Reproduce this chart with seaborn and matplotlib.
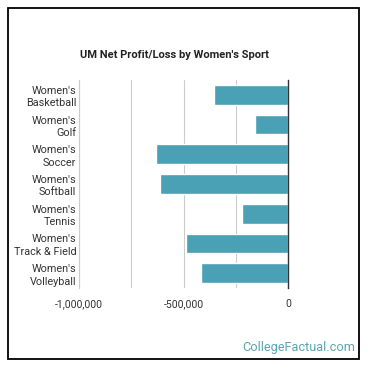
import pandas as pd
import seaborn as sns
import matplotlib.pyplot as plt
from matplotlib.patches import Rectangle

sports = ["Women's\nBasketball", "Women's\nGolf", "Women's\nSoccer", "Women's\nSoftball",
          "Women's\nTennis", "Women's\nTrack & Field", "Women's\nVolleyball"]
net = [-354000, -158000, -632000, -612000, -220000, -488000, -414000]
ticks = [-1000000, -750000, -500000, -250000, 0]
tick_labels = ["-1,000,000", "", "-500,000", "", "0"]

df = pd.DataFrame({"sport": sports, "net": net})

sns.set_style("white")
plt.rcParams['font.family'] = ['Roboto', 'DejaVu Sans']

fig = plt.figure(figsize=(3.7, 3.7), dpi=100)
ax = fig.add_axes([79/370, (370-288)/370, (288-79)/370, (288-80)/370])

sns.barplot(data=df, x="net", y="sport", orient="h", color="#4aa0b5",
            width=0.66, saturation=1, ax=ax)

ax.set_xlim(-1000000, 0)
ax.set_xticks(ticks)
ax.set_xticklabels(tick_labels)
ax.grid(axis="x", color="#cccccc", linewidth=0.8)
ax.set_axisbelow(True)
ax.set_xlabel("")
ax.set_ylabel("")
for s in ["top", "bottom"]:
    ax.spines[s].set_visible(False)
ax.spines["left"].set_color("#cccccc")
ax.spines["left"].set_linewidth(0.8)
ax.spines["right"].set_color("#333333")
ax.spines["right"].set_linewidth(1.0)
ax.tick_params(axis="both", length=0, labelsize=7.5, colors="#333333")
ax.tick_params(axis="y", labelsize=7.8, pad=2)
ax.tick_params(axis="x", pad=8)
for lab in ax.get_yticklabels():
    lab.set_linespacing(1.3)
    lab.set_horizontalalignment("right")

fig.text(174/370, 1 - 55/370, "UM Net Profit/Loss by Women's Sport", ha="center", va="center",
         fontsize=8, fontweight="bold", color="#222222")
fig.text(355/370, 1 - 348/370, "CollegeFactual.com", ha="right", va="center",
         fontsize=9.2, color="#5aa5b5")
fig.patches.append(Rectangle((8/370, 11/370), 351/370, 351/370, transform=fig.transFigure,
                             fill=False, edgecolor="black", linewidth=1.3))

fig.savefig("out.png", dpi=100)
